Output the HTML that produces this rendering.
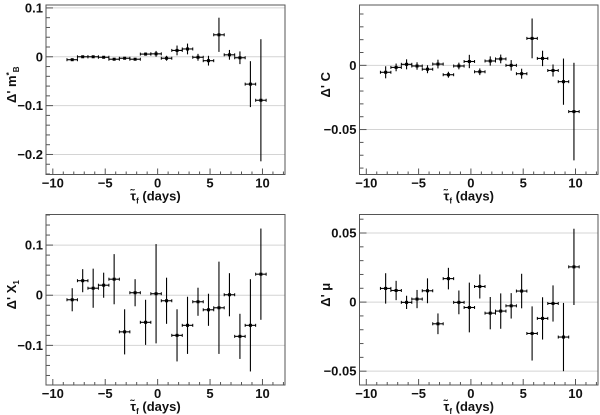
<!DOCTYPE html>
<html><head><meta charset="utf-8"><style>
html,body{margin:0;padding:0;background:#fff;}
svg{display:block;font-family:"Liberation Sans",sans-serif;}
</style></head><body>
<svg id="chart" width="600" height="415" viewBox="0 0 600 415" xmlns="http://www.w3.org/2000/svg"></svg>
<script>
const xCenters = [-8.15,-7.15,-6.15,-5.15,-4.15,-3.15,-2.15,-1.15,-0.15,0.85,1.85,2.85,3.85,4.85,5.85,6.85,7.85,8.85,9.85];
const xHalfWidth = 0.5;
const mbValues = [-0.006,0,0,-0.001,-0.005,-0.003,-0.005,0.0055,0.006,-0.003,0.013,0.016,-0.001,-0.008,0.045,0.004,-0.002,-0.056,-0.089];
const mbErrors = [0.002,0.002,0.002,0.002,0.002,0.002,0.002,0.003,0.006,0.005,0.010,0.011,0.007,0.010,0.035,0.010,0.013,0.047,0.125];
const cValues = [-0.0054,-0.0016,0.0008,-0.0005,-0.003,0.001,-0.0073,-0.0005,0.003,-0.005,0.0034,0.005,0,-0.0065,0.021,0.0054,-0.004,-0.0127,-0.036];
const cErrors = [0.0047,0.003,0.0039,0.0029,0.0031,0.0034,0.0023,0.0026,0.0052,0.0026,0.0036,0.0034,0.0041,0.0039,0.0155,0.006,0.0047,0.018,0.038];
const x1Values = [-0.009,0.029,0.014,0.020,0.032,-0.073,0.005,-0.054,0.003,-0.011,-0.080,-0.060,-0.013,-0.029,-0.025,0.001,-0.082,-0.060,0.042];
const x1Errors = [0.023,0.023,0.039,0.025,0.05,0.045,0.027,0.045,0.099,0.046,0.052,0.057,0.028,0.032,0.092,0.043,0.045,0.092,0.091];
const muValues = [0.0099,0.0084,-0.0002,0.0022,0.0082,-0.0157,0.017,-0.0002,-0.0039,0.0113,-0.008,-0.0065,-0.0027,0.008,-0.0227,-0.0118,-0.001,-0.0253,0.0255];
const muErrors = [0.011,0.007,0.0048,0.0066,0.009,0.0075,0.0078,0.0086,0.018,0.0087,0.0117,0.0128,0.0092,0.0125,0.0196,0.0153,0.0131,0.0247,0.0276];
const xTickLabels = ["−10","−5","0","5","10"];
const xTickValues = [-10,-5,0,5,10];
const mbTicks = [0.1,0,-0.1,-0.2];
const mbTickLabels = ["0.1","0","−0.1","−0.2"];
const cTicks = [0,-0.05];
const cTickLabels = ["0","−0.05"];
const x1Ticks = [0.1,0,-0.1];
const x1TickLabels = ["0.1","0","−0.1"];
const muTicks = [0.05,0,-0.05];
const muTickLabels = ["0.05","0","−0.05"];

const NS="http://www.w3.org/2000/svg";
const svg=document.getElementById('chart');
function mk(tag,attrs,parent){const e=document.createElementNS(NS,tag);for(const k in attrs)e.setAttribute(k,attrs[k]);(parent||svg).appendChild(e);return e;}

function panel(cfg){
  const g=mk('g',{});
  
  
  const L=cfg.left,R=cfg.right,T=cfg.top,B=cfg.bottom;
  const xmin=-10.65,xmax=12.15;
  const sx=v=>L+(v-xmin)/(xmax-xmin)*(R-L);
  const sy=v=>T+(cfg.ymax-v)/(cfg.ymax-cfg.ymin)*(B-T);
  cfg.ticks.forEach((t,i)=>{
    const gl=mk('line',{x1:L,x2:R,y1:sy(t),y2:sy(t),stroke:'#d4d4d4','stroke-width':1},g);
    
    
  });
  const fr=mk('rect',{x:L,y:T,width:R-L,height:B-T,fill:'none',stroke:'#555','stroke-width':1},g);
  
  
  for(let v=-10;v<=12;v++){
    const major=v%5===0;
    mk('line',{x1:sx(v),x2:sx(v),y1:B,y2:B-(major?6:3),stroke:'#555','stroke-width':1},g);
  }
  const st=cfg.minor;
  for(let v=Math.ceil(cfg.ymin/st)*st;v<=cfg.ymax+1e-9;v+=st){
    const isMajor=cfg.ticks.some(t=>Math.abs(t-v)<1e-9);
    mk('line',{x1:L,x2:L+(isMajor?7:4),y1:sy(v),y2:sy(v),stroke:'#555','stroke-width':1},g);
  }
  xTickValues.forEach((v,i)=>{
    const t=mk('text',{x:sx(v),y:B+13,'text-anchor':'middle','font-size':13,'font-weight':'bold',fill:'#111'},g);
    t.textContent=xTickLabels[i];
    
    
  });
  cfg.ticks.forEach((v,i)=>{
    const t=mk('text',{x:L-3,y:sy(v)+4.5,'text-anchor':'end','font-size':13,'font-weight':'bold',fill:'#111'},g);
    t.textContent=cfg.tickLabels[i];
    
    
  });
  const xt=mk('text',{x:(L+R)/2-10,y:B+26,'text-anchor':'middle','font-size':13,'font-weight':'bold',fill:'#111'},g);
  xt.innerHTML='τ̃<tspan font-size="8" dy="3">f</tspan><tspan dy="-3"> (days)</tspan>';
  
  
  const yt=mk('text',{x:0,y:0,'text-anchor':'middle','font-size':13,'font-weight':'bold',fill:'#111',transform:`translate(${cfg.ytx},${(T+B)/2-5}) rotate(-90)`},g);
  yt.innerHTML=cfg.ytitle;
  
  
  cfg.values.forEach((v,i)=>{
    const x=xCenters[i],e=cfg.errors[i];
    const pg=mk('g',{},g);
    
    
    mk('line',{x1:sx(x-xHalfWidth),x2:sx(x+xHalfWidth),y1:sy(v),y2:sy(v),stroke:'#000','stroke-width':1.1},pg);
    mk('line',{x1:sx(x-xHalfWidth),x2:sx(x-xHalfWidth),y1:sy(v)-1.5,y2:sy(v)+1.5,stroke:'#000','stroke-width':1},pg);
    mk('line',{x1:sx(x+xHalfWidth),x2:sx(x+xHalfWidth),y1:sy(v)-1.5,y2:sy(v)+1.5,stroke:'#000','stroke-width':1},pg);
    mk('line',{x1:sx(x),x2:sx(x),y1:sy(v+e),y2:sy(v-e),stroke:'#000','stroke-width':1.1},pg);
    mk('rect',{x:sx(x)-1.5,y:sy(v)-1.5,width:3,height:3,fill:'#000'},pg);
  });
}
panel({name:'panel-mb',left:46,right:285,top:5,bottom:174.5,ymin:-0.241,ymax:0.106,ticks:mbTicks,tickLabels:mbTickLabels,minor:0.02,values:mbValues,errors:mbErrors,ytx:16,ytitle:'Δ\' m<tspan font-size="8" dy="-4">*</tspan><tspan font-size="8" dy="7">B</tspan>'});
panel({name:'panel-c',left:359.5,right:598,top:5,bottom:174.5,ymin:-0.085,ymax:0.047,ticks:cTicks,tickLabels:cTickLabels,minor:0.01,values:cValues,errors:cErrors,ytx:330,ytitle:'Δ\' C'});
panel({name:'panel-x1',left:46,right:285,top:214.5,bottom:385,ymin:-0.179,ymax:0.161,ticks:x1Ticks,tickLabels:x1TickLabels,minor:0.02,values:x1Values,errors:x1Errors,ytx:16,ytitle:'Δ\' X<tspan font-size="8" dy="3">1</tspan>'});
panel({name:'panel-mu',left:359.5,right:598,top:214.5,bottom:385,ymin:-0.060,ymax:0.0634,ticks:muTicks,tickLabels:muTickLabels,minor:0.01,values:muValues,errors:muErrors,ytx:330,ytitle:'Δ\' μ'});
</script>
</body></html>
